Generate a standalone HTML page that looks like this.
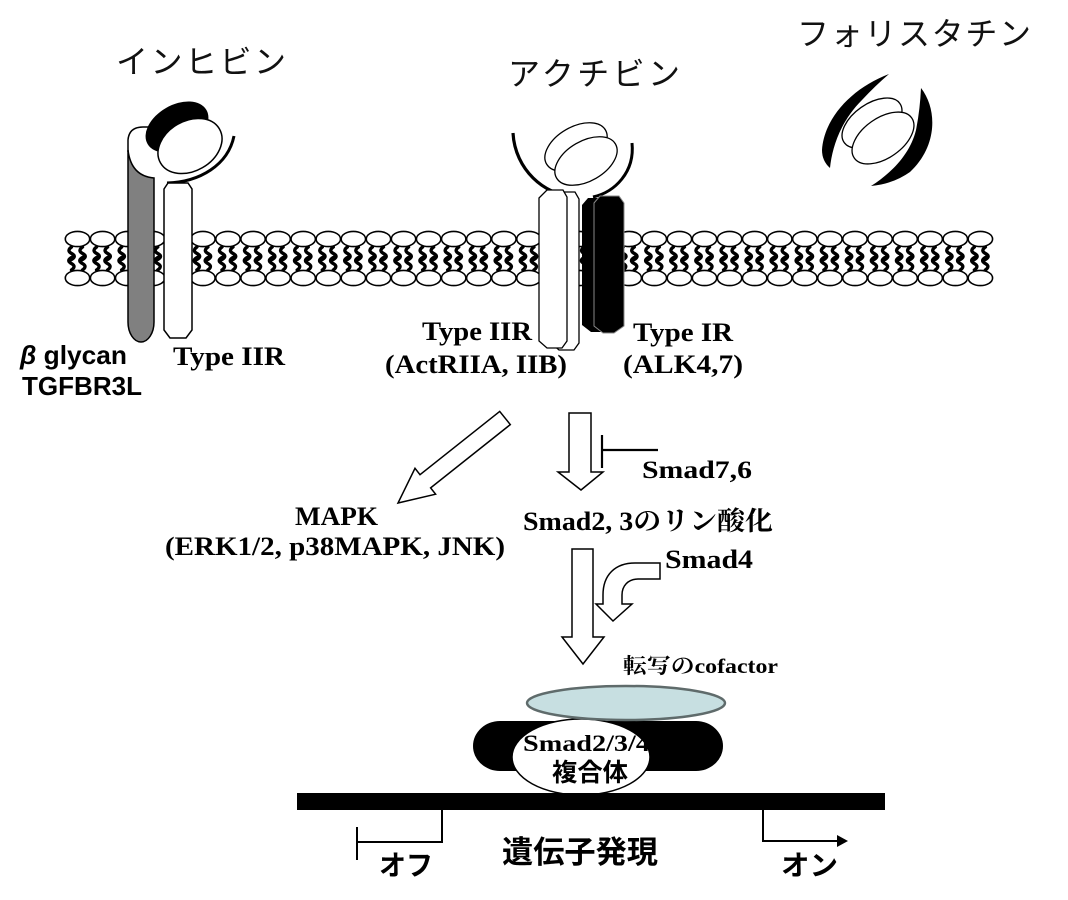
<!DOCTYPE html>
<html>
<head>
<meta charset="utf-8">
<style>
html,body{margin:0;padding:0;background:#fff;}
svg{display:block}
</style>
</head>
<body>
<svg width="1068" height="900" viewBox="0 0 1068 900" xmlns="http://www.w3.org/2000/svg">
<defs>
  <g id="lip">
    <g fill="none" stroke="#000" stroke-width="3.4" stroke-linejoin="round" stroke-linecap="round">
      <path d="M-6,247 c-4,3 -3,5 1,7 c3,2 2,4 -2,6"/>
      <path d="M5,247 c-4,3 -3,5 1,7 c3,2 2,4 -2,6"/>
      <path d="M-6,270 c4,-3 3,-5 -1,-7 c-3,-2 -2,-4 2,-6"/>
      <path d="M5,270 c4,-3 3,-5 -1,-7 c-3,-2 -2,-4 2,-6"/>
    </g>
    <ellipse cx="0" cy="239" rx="12.2" ry="7.6" fill="#fff" stroke="#000" stroke-width="1.6"/>
    <ellipse cx="0" cy="278" rx="12.2" ry="7.6" fill="#fff" stroke="#000" stroke-width="1.6"/>
  </g>
</defs>
<rect width="1068" height="900" fill="#fff"/>

<!-- Titles -->
<g font-family="'Liberation Sans','Noto Sans CJK JP',sans-serif" font-size="32" fill="#111">
  <text x="116" y="73" textLength="170" lengthAdjust="spacing">インヒビン</text>
  <text x="508" y="85" textLength="172" lengthAdjust="spacing">アクチビン</text>
  <text x="797" y="45" textLength="234" lengthAdjust="spacing">フォリスタチン</text>
</g>

<!-- Membrane -->
<g>
  <use href="#lip" transform="translate(77.5,0)"/>
  <use href="#lip" transform="translate(102.58,0)"/>
  <use href="#lip" transform="translate(127.66,0)"/>
  <use href="#lip" transform="translate(152.74,0)"/>
  <use href="#lip" transform="translate(177.82,0)"/>
  <use href="#lip" transform="translate(202.9,0)"/>
  <use href="#lip" transform="translate(227.98,0)"/>
  <use href="#lip" transform="translate(253.06,0)"/>
  <use href="#lip" transform="translate(278.14,0)"/>
  <use href="#lip" transform="translate(303.22,0)"/>
  <use href="#lip" transform="translate(328.3,0)"/>
  <use href="#lip" transform="translate(353.38,0)"/>
  <use href="#lip" transform="translate(378.46,0)"/>
  <use href="#lip" transform="translate(403.54,0)"/>
  <use href="#lip" transform="translate(428.62,0)"/>
  <use href="#lip" transform="translate(453.7,0)"/>
  <use href="#lip" transform="translate(478.78,0)"/>
  <use href="#lip" transform="translate(503.86,0)"/>
  <use href="#lip" transform="translate(528.94,0)"/>
  <use href="#lip" transform="translate(554.02,0)"/>
  <use href="#lip" transform="translate(579.1,0)"/>
  <use href="#lip" transform="translate(604.18,0)"/>
  <use href="#lip" transform="translate(629.26,0)"/>
  <use href="#lip" transform="translate(654.34,0)"/>
  <use href="#lip" transform="translate(679.42,0)"/>
  <use href="#lip" transform="translate(704.5,0)"/>
  <use href="#lip" transform="translate(729.58,0)"/>
  <use href="#lip" transform="translate(754.66,0)"/>
  <use href="#lip" transform="translate(779.74,0)"/>
  <use href="#lip" transform="translate(804.82,0)"/>
  <use href="#lip" transform="translate(829.9,0)"/>
  <use href="#lip" transform="translate(854.98,0)"/>
  <use href="#lip" transform="translate(880.06,0)"/>
  <use href="#lip" transform="translate(905.14,0)"/>
  <use href="#lip" transform="translate(930.22,0)"/>
  <use href="#lip" transform="translate(955.3,0)"/>
  <use href="#lip" transform="translate(980.38,0)"/>
</g>

<!-- Inhibin side: betaglycan -->
<path d="M128,160 L128,140 Q129,127 143,127 L152,127 L156,140 L156,180 L128,180 Z" fill="#fff"/>
<path d="M128,152 L128,140 Q129,127 143,127 L150,127" fill="none" stroke="#000" stroke-width="1.5"/>
<path d="M128,150 Q131,176 154,178 L154,322 A13,20 0 0 1 128,322 Z" fill="#808080" stroke="#000" stroke-width="1.5"/>

<!-- Inhibin ligand -->
<ellipse cx="177" cy="127" rx="34" ry="22" transform="rotate(-30 177 127)" fill="#000"/>
<ellipse cx="190" cy="146" rx="34" ry="25" transform="rotate(-30 190 146)" fill="#fff" stroke="#000" stroke-width="1.5"/>
<path d="M167,183 C200,182 228,165 234,136" fill="none" stroke="#000" stroke-width="3"/>

<!-- Inhibin Type IIR -->
<polygon points="164,189 168,183 188,183 192,189 192,330 186,338 170,338 164,330" fill="#fff" stroke="#000" stroke-width="1.5"/>

<!-- Activin ligand + arcs -->
<ellipse cx="576" cy="147" rx="34" ry="20" transform="rotate(-30 576 147)" fill="#fff" stroke="#000" stroke-width="1.3"/>
<ellipse cx="586" cy="161" rx="34" ry="20" transform="rotate(-30 586 161)" fill="#fff" stroke="#000" stroke-width="1.3"/>
<path d="M513,133 C515,170 545,195 572,196" fill="none" stroke="#000" stroke-width="3.2"/>
<path d="M593,197 C615,192 635,172 632,143" fill="none" stroke="#000" stroke-width="3"/>

<!-- Activin Type IIR -->
<polygon points="551,200 559,192 575,192 579,199 579,343 574,350 559,350 551,343" fill="#fff" stroke="#000" stroke-width="1.3"/>
<polygon points="539,198 547,190 563,190 567,197 567,341 562,348 547,348 539,341" fill="#fff" stroke="#000" stroke-width="1.3"/>

<!-- Type IR black -->
<polygon points="582,205 588,198 607,198 612,205 612,325 603,332 591,332 582,325" fill="#000"/>
<polygon points="594,203 600,196 619,196 624,203 624,326 614,333 603,333 594,326" fill="#000" stroke="#888" stroke-width="1"/>

<!-- Follistatin -->
<path d="M889,74 C852,88 824,118 822,150 Q822,161 830,168 C832,148 840,122 862,100 Q875,86 889,74 Z" fill="#000"/>
<path d="M921,88 C938,110 937,147 910,172 Q893,184 871,186 C890,174 910,155 916,130 Q920,110 921,88 Z" fill="#000"/>
<ellipse cx="872" cy="123" rx="34" ry="19" transform="rotate(-35 872 123)" fill="#fff" stroke="#000" stroke-width="1.3"/>
<ellipse cx="883" cy="138" rx="35" ry="20" transform="rotate(-35 883 138)" fill="#fff" stroke="#000" stroke-width="1.3"/>

<!-- Labels -->
<g font-family="'Liberation Sans','Noto Sans CJK JP',sans-serif" font-weight="bold" font-size="26" fill="#000">
  <text x="20" y="364" textLength="107" lengthAdjust="spacingAndGlyphs"><tspan font-style="italic">β</tspan> glycan</text>
  <text x="22" y="395" textLength="120" lengthAdjust="spacingAndGlyphs">TGFBR3L</text>
</g>
<g font-family="'Liberation Serif','Noto Serif CJK SC',serif" font-weight="bold" font-size="26" fill="#000">
  <text x="173" y="365" textLength="112" lengthAdjust="spacingAndGlyphs">Type IIR</text>
  <text x="422" y="340" textLength="110" lengthAdjust="spacingAndGlyphs">Type IIR</text>
  <text x="385" y="373" textLength="182" lengthAdjust="spacingAndGlyphs">(ActRIIA, IIB)</text>
  <text x="633" y="341" textLength="100" lengthAdjust="spacingAndGlyphs">Type IR</text>
  <text x="623" y="373" textLength="120" lengthAdjust="spacingAndGlyphs">(ALK4,7)</text>
  <text x="642" y="478" textLength="110" lengthAdjust="spacingAndGlyphs" font-size="25">Smad7,6</text>
  <text x="295" y="525" textLength="83" lengthAdjust="spacingAndGlyphs">MAPK</text>
  <text x="165" y="555" textLength="340" lengthAdjust="spacingAndGlyphs">(ERK1/2, p38MAPK, JNK)</text>
  <text x="523" y="530" textLength="250" lengthAdjust="spacingAndGlyphs">Smad2, 3のリン酸化</text>
  <text x="665" y="568" textLength="88" lengthAdjust="spacingAndGlyphs">Smad4</text>
  <text x="623" y="673" textLength="155" lengthAdjust="spacingAndGlyphs" font-size="21">転写のcofactor</text>
</g>

<!-- Arrows -->
<g fill="#fff" stroke="#000" stroke-width="1.5" stroke-linejoin="miter">
  <polygon points="499.7,411.4 420,474.7 415,468.3 398,503 435.6,494.2 430.6,487.9 510.3,424.6"/>
  <polygon points="569,413 591,413 591,472 603,472 581,490 558,472 569,472"/>
  <polygon points="572,549 593,549 593,637 604,637 583,664 562,637 572,637"/>
  <path d="M660,563 L635,563 C615,563 603,575 603,595 L603,604 L596,604 L613,621 L632,604 L622,604 L622,595 C622,586 628,579 638,579 L660,579 Z"/>
</g>
<!-- Inhibition -->
<g stroke="#000" stroke-width="2.2" fill="none">
  <line x1="602" y1="435" x2="602" y2="468"/>
  <line x1="602" y1="450" x2="658" y2="450"/>
</g>

<!-- Smad complex -->
<rect x="473" y="721" width="250" height="50" rx="27" ry="25" fill="#000"/>
<ellipse cx="581" cy="757" rx="69" ry="38" fill="#fff" stroke="#000" stroke-width="1.5"/>
<ellipse cx="626" cy="703" rx="99" ry="17" fill="#c7dfe1" stroke="#5f6b6b" stroke-width="2.5"/>
<text x="523" y="751" textLength="127" lengthAdjust="spacingAndGlyphs" font-family="'Liberation Serif','Noto Serif CJK SC',serif" font-weight="bold" font-size="23">Smad2/3/4</text>
<text x="552" y="781" textLength="76" lengthAdjust="spacingAndGlyphs" font-family="'Liberation Sans','Noto Sans CJK JP',sans-serif" font-weight="bold" font-size="25">複合体</text>

<!-- DNA bar -->
<rect x="297" y="793" width="588" height="17" fill="#000"/>

<!-- Off / On -->
<g stroke="#000" stroke-width="2" fill="none">
  <line x1="357" y1="827" x2="357" y2="860"/>
  <polyline points="357,842 442,842 442,810"/>
  <polyline points="763,810 763,841 839,841"/>
</g>
<polygon points="837,835 848,841 837,847" fill="#000"/>
<g font-family="'Liberation Sans','Noto Sans CJK JP',sans-serif" font-weight="bold" fill="#000">
  <text x="379" y="875" textLength="54" lengthAdjust="spacingAndGlyphs" font-size="28">オフ</text>
  <text x="502" y="863" textLength="156" lengthAdjust="spacingAndGlyphs" font-size="31">遺伝子発現</text>
  <text x="781" y="875" textLength="57" lengthAdjust="spacingAndGlyphs" font-size="28">オン</text>
</g>
</svg>
</body>
</html>
